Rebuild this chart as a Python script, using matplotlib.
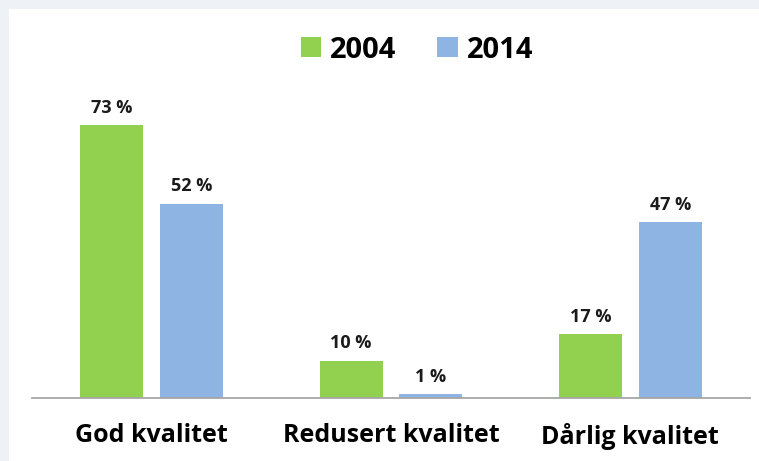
import matplotlib
matplotlib.use("Agg")
from matplotlib import pyplot as plt
from matplotlib.patches import Rectangle
import numpy as np

# Data
categories = ["God kvalitet", "Redusert kvalitet", "Dårlig kvalitet"]
years = ["2004", "2014"]
values_2004 = [73, 10, 17]
values_2014 = [52, 1, 47]

green = "#92d050"
blue = "#8eb4e3"

plt.rcParams['font.family'] = ['Open Sans', 'DejaVu Sans']
plt.rcParams['font.weight'] = 'bold'

fig = plt.figure(figsize=(7.59, 4.61), dpi=100)
fig.patch.set_facecolor("#eef2f6")

# white sheet behind the chart, leaving the pale frame at top and left
bg = fig.add_axes([0, 0, 1, 1], zorder=0)
bg.set_axis_off()
bg.add_patch(Rectangle((9/759, 0), 1, 1 - 9/461, transform=bg.transAxes,
                       facecolor="white", edgecolor="none"))

ax = fig.add_axes([32/759, 63/461, 718/759, 0.7], zorder=1)
ax.set_facecolor("none")

x = np.arange(len(categories))
w = 0.263
off = 0.167
b1 = ax.bar(x - off, values_2004, w, color=green, label=years[0])
b2 = ax.bar(x + off, values_2014, w, color=blue, label=years[1])

for bars in (b1, b2):
    ax.bar_label(bars, labels=[f"{v} %" for v in bars.datavalues],
                 padding=6, fontsize=13, fontweight='bold', color="#1a1a1a")

ax.set_xlim(-0.5, 2.5)
ax.set_ylim(0, 86.3)
ax.set_xticks(x)
ax.set_xticklabels(categories, fontsize=18, fontweight='bold')
ax.tick_params(axis='x', length=0, pad=18)
ax.set_yticks([])
for s in ("top", "right", "left"):
    ax.spines[s].set_visible(False)
ax.spines["bottom"].set_color("#a6a6a6")
ax.spines["bottom"].set_linewidth(1.3)

fig.legend(handles=[b1, b2], loc="center", bbox_to_anchor=(417/759, 1 - 50/461),
           ncol=2, frameon=False, handlelength=0.7, handleheight=0.7,
           handletextpad=0.3, columnspacing=1.4, prop={'weight': 'bold', 'size': 21})

fig.savefig("out.png", dpi=100, facecolor=fig.get_facecolor())
